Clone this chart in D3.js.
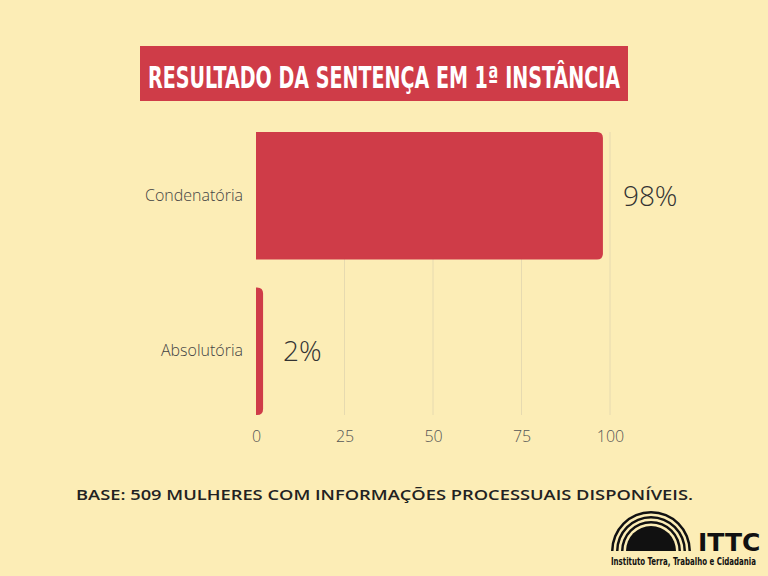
<!DOCTYPE html>
<html><head><meta charset="utf-8">
<script src="https://cdn.jsdelivr.net/npm/d3@7"></script>
<style>body{margin:0;background:#fcedb6}</style></head>
<body><svg id="c" width="768" height="576"></svg>
<script>
const categories = ["Condenatória", "Absolutória"];
const values = [98, 2];
const ticks = [0, 25, 50, 75, 100];

const svg = d3.select("#c");
const red = "#cf3c48";
svg.append("rect").attr("width", 768).attr("height", 576).attr("fill", "#fcedb6");

// title
svg.append("rect").attr("x", 140).attr("y", 46).attr("width", 488).attr("height", 55).attr("fill", red);
svg.append("text").attr("x", 148).attr("y", 88)
    .attr("fill", "#fff").attr("font-family", "DejaVu Sans Condensed, DejaVu Sans, sans-serif")
    .attr("font-weight", "bold").attr("font-size", 30).attr("textLength", 472).attr("lengthAdjust", "spacingAndGlyphs")
    .text("RESULTADO DA SENTENÇA EM 1ª INSTÂNCIA");

const x = d3.scaleLinear().domain([0, 100]).range([256, 610]);
const y = d3.scaleBand().domain(categories).range([132, 415]).paddingInner(0.18);

// grid
svg.append("g").selectAll("line").data(ticks.slice(1)).enter().append("line")
    .attr("x1", d => x(d)).attr("x2", d => x(d)).attr("y1", 132).attr("y2", 415)
    .attr("stroke", "#e6dab0").attr("stroke-width", 1);

// bars with rounded right corners
const r = 6;
svg.append("g").selectAll("path").data(values).enter().append("path")
    .attr("fill", red)
    .attr("d", (d, i) => {
        const x0 = x(0), x1 = x(d), y0 = y(categories[i]), h = y.bandwidth();
        const rr = Math.min(r, x1 - x0);
        return `M${x0},${y0}H${x1 - rr}Q${x1},${y0} ${x1},${y0 + rr}V${y0 + h - rr}Q${x1},${y0 + h} ${x1 - rr},${y0 + h}H${x0}Z`;
    });

// axes
const ax = svg.append("g").attr("transform", "translate(0,427)")
    .call(d3.axisBottom(x).tickValues(ticks).tickSize(0).tickPadding(4));
ax.select(".domain").remove();
ax.selectAll("text").attr("font-family", "Open Sans, sans-serif").attr("font-size", 16).attr("fill", "#555").attr("font-weight", 300);

const ay = svg.append("g").attr("transform", "translate(243,0)")
    .call(d3.axisLeft(y).tickSize(0).tickPadding(0));
ay.select(".domain").remove();
ay.selectAll("text").attr("font-family", "Open Sans, sans-serif").attr("font-size", 16).attr("font-weight", 300).attr("fill", "#444");

// value labels
svg.append("g").selectAll("text").data(values).enter().append("text")
    .attr("x", d => x(d) + 20).attr("y", (d, i) => y(categories[i]) + y.bandwidth() / 2 + 10)
    .attr("font-family", "Open Sans, sans-serif").attr("font-weight", 300).attr("font-size", 28).attr("fill", "#333")
    .text(d => d + "%");

// footer
svg.append("text").attr("x", 76).attr("y", 500)
    .attr("font-family", "Open Sans, sans-serif").attr("font-weight", 600).attr("font-size", 15).attr("fill", "#222")
    .attr("textLength", 617).attr("lengthAdjust", "spacingAndGlyphs")
    .text("BASE: 509 MULHERES  COM INFORMAÇÕES PROCESSUAIS DISPONÍVEIS.");

// logo
const lg = svg.append("g").attr("transform", "translate(651,551)");
[40, 35, 30, 25].forEach((rad, i) => {
    lg.append("path").attr("d", d3.arc()({innerRadius: i === 3 ? 0 : rad - 2.5, outerRadius: rad, startAngle: -Math.PI / 2, endAngle: Math.PI / 2}))
        .attr("fill", "#111");
});
svg.append("text").attr("x", 698).attr("y", 551).attr("font-family", "DejaVu Sans, sans-serif").attr("font-weight", "bold")
    .attr("font-size", 25).attr("fill", "#111").text("ITTC");
svg.append("text").attr("x", 611).attr("y", 565).attr("font-family", "DejaVu Sans Condensed, sans-serif").attr("font-weight", "bold")
    .attr("font-size", 10).attr("fill", "#111").attr("textLength", 145).attr("lengthAdjust", "spacingAndGlyphs")
    .text("Instituto Terra, Trabalho e Cidadania");
</script></body></html>
